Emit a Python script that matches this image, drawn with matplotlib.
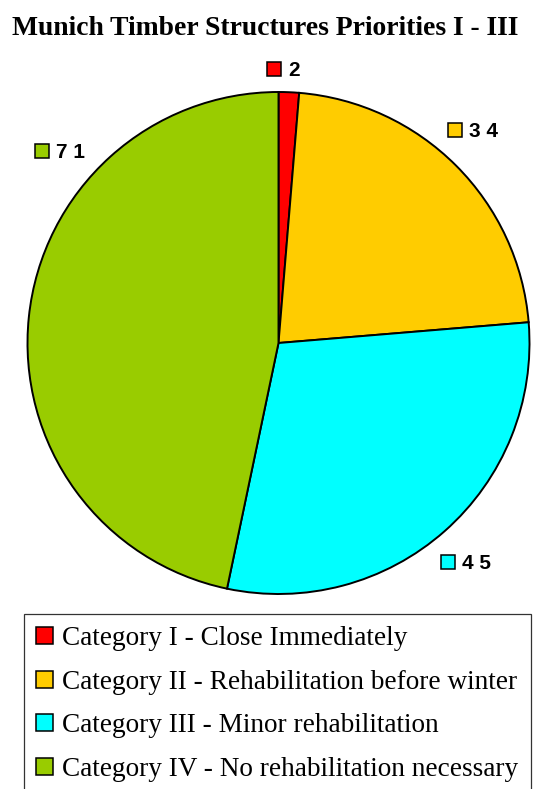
import matplotlib
matplotlib.use("Agg")
import matplotlib.pyplot as plt
from matplotlib.patches import Patch

# ---- data ----
categories = [
    "Category I - Close Immediately",
    "Category II - Rehabilitation before winter",
    "Category III - Minor rehabilitation",
    "Category IV - No rehabilitation necessary",
]
values = [2, 34, 45, 71]
value_labels = ["2", "3 4", "4 5", "7 1"]
colors = ["#FF0000", "#FFCC00", "#00FFFF", "#99CC00"]
title = "Munich Timber Structures Priorities I - III"

# ---- layout ----
W, H = 536, 789
fig = plt.figure(figsize=(W / 100, H / 100), dpi=100)
fig.patch.set_facecolor("white")

cx, cy, R = 278.5, 343.0, 251.0
ax = fig.add_axes([(cx - R) / W, (H - cy - R) / H, 2 * R / W, 2 * R / H])
wedges, _ = ax.pie(
    values,
    colors=colors,
    startangle=90,
    counterclock=False,
    radius=1.0,
    wedgeprops=dict(edgecolor="black", linewidth=1.4),
)
ax.set_xlim(-1, 1)
ax.set_ylim(-1, 1)
ax.axis("off")

# label anchor positions (data units relative to pie, radius = 1)
label_pos = [(-0.016, 1.092), (0.703, 0.849), (0.675, -0.873), (-0.942, 0.763)]
for (lx, ly), txt, col in zip(label_pos, value_labels, colors):
    ax.plot([lx], [ly], marker="s", markersize=9.8, markerfacecolor=col,
            markeredgecolor="black", markeredgewidth=1.1, clip_on=False, zorder=5)
    ax.annotate(txt, (lx, ly), xytext=(10.2, -5.0), textcoords="offset points",
                ha="left", va="baseline", fontsize=15, fontweight="bold",
                family="Liberation Sans", color="black", annotation_clip=False)

# title
fig.text(265.5 / W, 1 - 35 / H, title, ha="center", va="baseline",
         fontsize=19.9, fontweight="bold", family="Liberation Serif")

# legend
handles = [Patch(facecolor=c, edgecolor="black", linewidth=1.1) for c in colors]
leg = fig.legend(
    handles, categories,
    loc="upper left", bbox_to_anchor=(24 / W, 1 - 614 / H),
    bbox_transform=fig.transFigure, borderaxespad=0,
    prop=dict(family="Liberation Serif", size=19.6),
    frameon=True, fancybox=False, shadow=False,
    handlelength=0.6, handleheight=0.6, handletextpad=0.36,
    labelspacing=0.68, borderpad=0.45,
)
leg.get_frame().set_edgecolor("black")
leg.get_frame().set_linewidth(0.9)

fig.savefig("out.png", dpi=100)
